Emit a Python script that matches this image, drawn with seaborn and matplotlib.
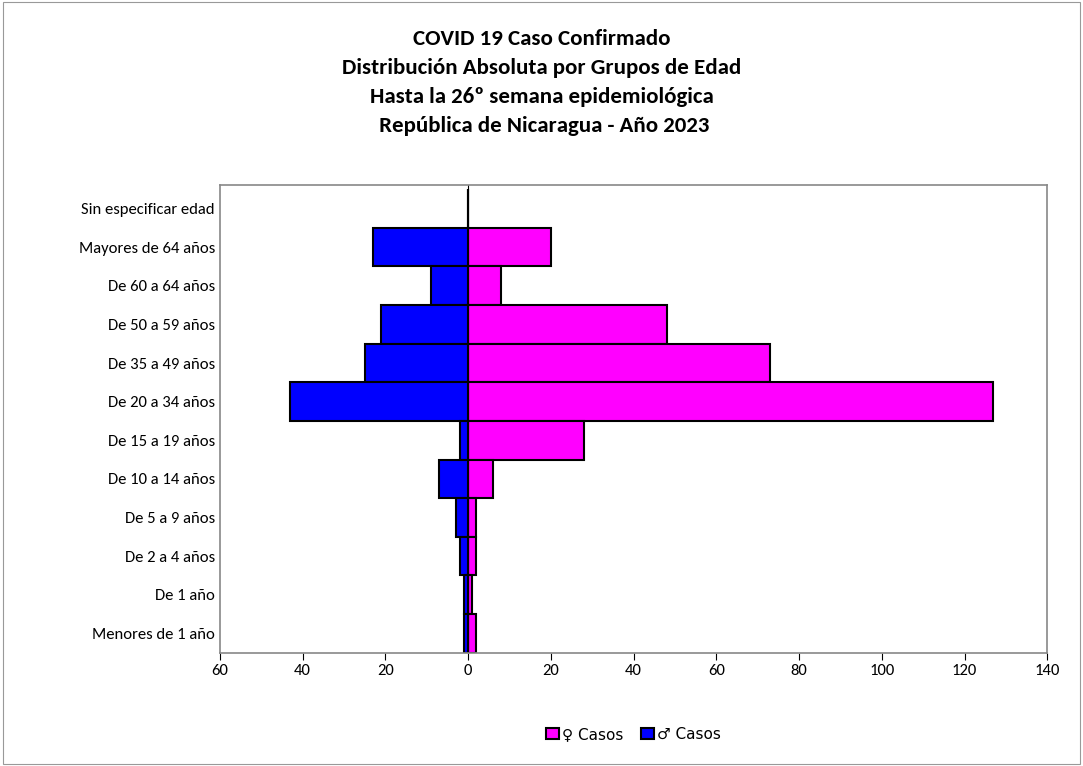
import matplotlib.pyplot as plt
import seaborn as sns
import pandas as pd

groups = ["Menores de 1 año", "De 1 año", "De 2 a 4 años", "De 5 a 9 años", "De 10 a 14 años",
          "De 15 a 19 años", "De 20 a 34 años", "De 35 a 49 años", "De 50 a 59 años",
          "De 60 a 64 años", "Mayores de 64 años", "Sin especificar edad"]
mujeres = [2, 1, 2, 2, 6, 28, 127, 73, 48, 8, 20, 0]
hombres = [-1, -1, -2, -3, -7, -2, -43, -25, -21, -9, -23, 0]

order = groups[::-1]
df = pd.DataFrame({"grupo": groups * 2, "casos": mujeres + hombres,
                   "sexo": ["♀ Casos"] * len(groups) + ["♂ Casos"] * len(groups)})

sns.set_style("white")
plt.rcParams['font.family'] = ['Carlito', 'Lato', 'DejaVu Sans']
plt.rcParams['text.color'] = 'black'
plt.rcParams['xtick.color'] = 'black'
plt.rcParams['ytick.color'] = 'black'
fig = plt.figure(figsize=(10.83, 7.66), dpi=100)
ax = fig.add_axes([0.203, 0.148, 0.764, 0.61])
sns.barplot(data=df, y="grupo", x="casos", hue="sexo", order=order, dodge=False,
            palette={"♀ Casos": "#FF00FF", "♂ Casos": "#0000FF"}, saturation=1,
            edgecolor="black", linewidth=1.5, width=1.0, ax=ax)
ax.set_xlim(-60, 140)
ax.set_xticks(range(-60, 141, 20))
ax.set_xticklabels([str(abs(v)) for v in range(-60, 141, 20)], fontsize=12)
ax.tick_params(axis="y", labelsize=12, length=0)
ax.tick_params(axis="x", length=5, direction="out", bottom=True)
ax.set_ylim(len(groups) - 0.5, -0.6)
ax.axvline(0, color="black", linewidth=0.8)
ax.set_xlabel("")
ax.set_ylabel("")
for s in ax.spines.values():
    s.set_color("#888888")
    s.set_linewidth(1.2)
ax.legend(loc="upper center", bbox_to_anchor=(0.5, -0.13), ncol=2, frameon=False,
          handlelength=0.8, handletextpad=0.2, columnspacing=1.2,
          prop={'family': ['DejaVu Sans'], 'size': 11})
fig.text(0.5, 0.962, "COVID 19 Caso Confirmado\nDistribución Absoluta por Grupos de Edad\n"
         "Hasta la 26º semana epidemiológica\n República de Nicaragua - Año 2023",
         ha="center", va="top", fontsize=16.5, fontweight="bold", linespacing=1.55)
fig.patches.append(plt.Rectangle((0.003, 0.003), 0.994, 0.994, transform=fig.transFigure,
                                 fill=False, edgecolor="#999999", linewidth=0.8))
fig.savefig("out.png")
